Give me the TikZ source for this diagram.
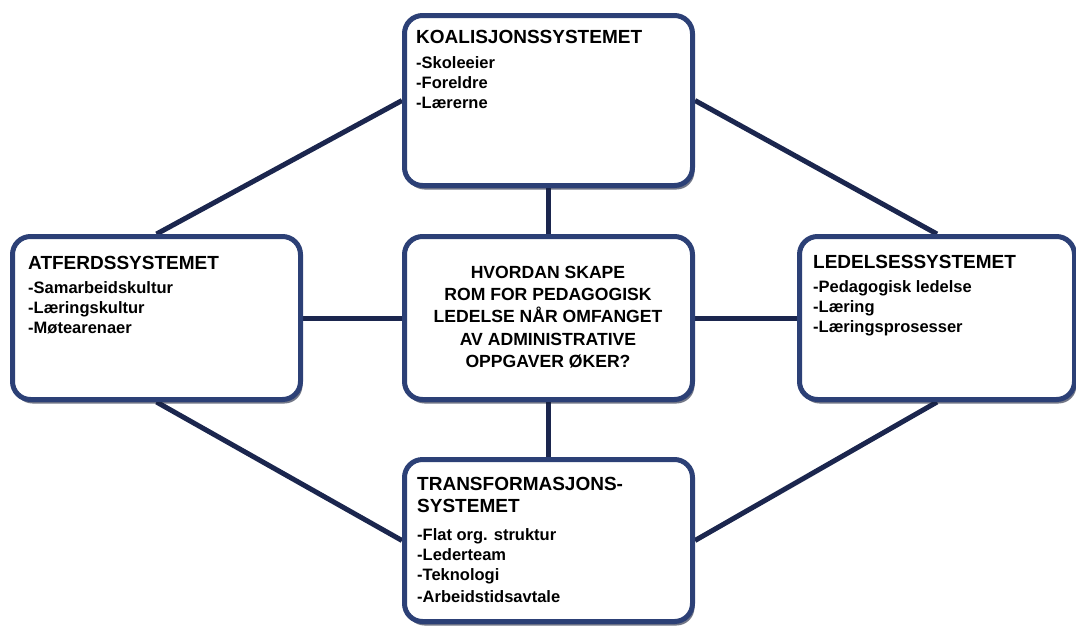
\documentclass[tikz,border=0pt]{standalone}
\usepackage{fontspec}
\setmainfont{Liberation Sans}
\usetikzlibrary{shadows,backgrounds}
\definecolor{boxblue}{RGB}{44,64,118}
\definecolor{linkblue}{RGB}{27,38,78}
\definecolor{shadowblue}{RGB}{20,28,55}
\tikzset{
  sysbox/.style={draw=boxblue, line width=5pt, fill=white, rounded corners=18pt,
    anchor=north west, inner sep=0pt,
    drop shadow={shadow xshift=2pt, shadow yshift=-4pt, fill=shadowblue, opacity=0.6}},
  link/.style={draw=linkblue, line width=5pt},
  ttl/.style={anchor=base west, inner sep=0pt, font=\bfseries\fontsize{19}{22}\selectfont},
  itm/.style={anchor=base west, inner sep=0pt, font=\bfseries\fontsize{16.5}{20}\selectfont},
  ctr/.style={anchor=base, inner sep=0pt, font=\bfseries\fontsize{17.6}{22}\selectfont},
}
\begin{document}
\begin{tikzpicture}[x=1pt,y=-1pt]
\useasboundingbox (0,0) rectangle (1076,625);
% boxes
\node[sysbox, minimum width=288pt, minimum height=170pt] (top) at (402,13) {};
\node[sysbox, minimum width=288pt, minimum height=163pt] (left) at (10,234) {};
\node[sysbox, minimum width=288pt, minimum height=163pt] (center) at (402,234) {};
\node[sysbox, minimum width=275pt, minimum height=163pt] (right) at (797,234) {};
\node[sysbox, minimum width=288pt, minimum height=162pt] (bottom) at (402,457) {};
% connectors
\begin{scope}[on background layer]
\draw[link] (left.north) -- (top.west);
\draw[link] (top.east) -- (right.north);
\draw[link] (left.south) -- (bottom.west);
\draw[link] (bottom.east) -- (right.south);
\draw[link] (left.east) -- (center.west);
\draw[link] (center.east) -- (right.west);
\draw[link] (top.south) -- (center.north);
\draw[link] (center.south) -- (bottom.north);
\end{scope}
% top box text
\node[ttl] (k0) at (416,43) {KOALISJONSSYSTEMET};
\node[itm] (k1) at (416,68) {-Skoleeier};
\node[itm] (k2) at (416,88) {-Foreldre};
\node[itm] (k3) at (416,108) {-Lærerne};
% left box text
\node[ttl] (a0) at (28,269) {ATFERDSSYSTEMET};
\node[itm] (a1) at (28,293) {-Samarbeidskultur};
\node[itm] (a2) at (28,313) {-Læringskultur};
\node[itm] (a3) at (28,333) {-Møtearenaer};
% right box text
\node[ttl] (l0) at (813,268) {LEDELSESSYSTEMET};
\node[itm] (l1) at (813,292) {-Pedagogisk ledelse};
\node[itm] (l2) at (813,312) {-Læring};
\node[itm] (l3) at (813,332) {-Læringsprosesser};
% bottom box text
\node[ttl] (t0) at (417,490) {TRANSFORMASJONS-};
\node[ttl] (t1) at (417,512) {SYSTEMET};
\node[itm] (t2) at (417,540) {-Flat org. struktur};
\node[itm] (t3) at (417,560) {-Lederteam};
\node[itm] (t4) at (417,580) {-Teknologi};
\node[itm] (t5) at (417,602) {-Arbeidstidsavtale};
% center text
\node[ctr] (c1) at (548,278) {HVORDAN SKAPE};
\node[ctr] (c2) at (548,300) {ROM FOR PEDAGOGISK};
\node[ctr] (c3) at (548,322) {LEDELSE NÅR OMFANGET};
\node[ctr] (c4) at (548,345) {AV ADMINISTRATIVE};
\node[ctr] (c5) at (548,367) {OPPGAVER ØKER?};
\end{tikzpicture}
\end{document}
